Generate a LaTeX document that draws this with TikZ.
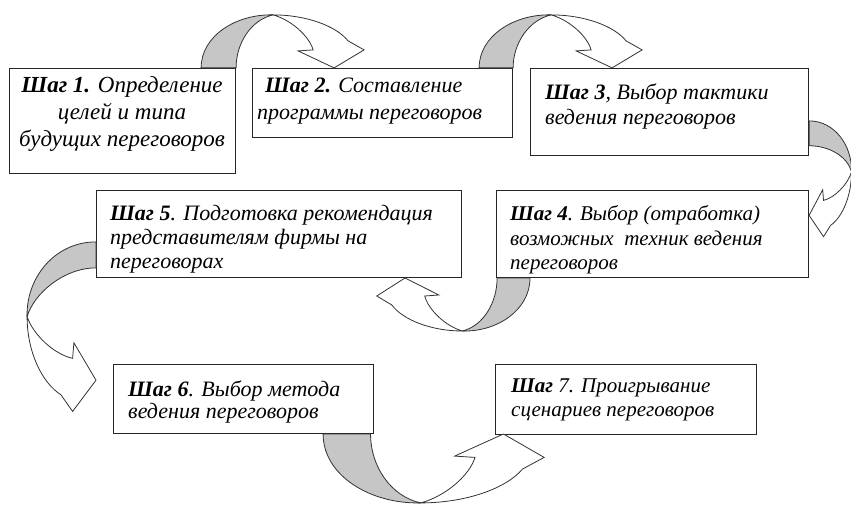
\documentclass[tikz,border=0pt]{standalone}
\usepackage{fontspec}
\setmainfont{Liberation Serif}
\usetikzlibrary{calc}
\tikzset{
  box/.style={draw=black!85, line width=1.1pt, fill=white, rectangle, inner sep=0pt, anchor=south west},
  txt/.style={inner sep=0pt, align=left, font=\itshape},
  arrback/.style={draw=black!80, line width=0.8pt, fill=gray!45, line join=round},
  arrfront/.style={draw=black!80, line width=0.8pt, fill=white, line join=miter},
}
\newcommand\crvarrow[2][35]{%
  \begin{scope}[#2]
    \path[arrback] (0,0) .. controls (0,32) and (35,54) .. (72,53)
       .. controls (50,48) and (#1,25) .. (#1,0) -- cycle;
    \path[arrfront] (72,53) .. controls (105,53) and (135,42) .. (147,27)
       -- (163,18) -- (133,0) -- (97,17) -- (112,18)
       .. controls (108,32) and (90,48) .. (72,53) -- cycle;
  \end{scope}}
\begin{document}
\begin{tikzpicture}[x=1pt,y=1pt]
\useasboundingbox (0,0) rectangle (851,504);
% boxes
\node[box, minimum width=226pt, minimum height=105pt] (b1) at (9,330) {};
\node[box, minimum width=260pt, minimum height=69pt] (b2) at (252,366) {};
\node[box, minimum width=278pt, minimum height=87pt] (b3) at (530,348) {};
\node[box, minimum width=365pt, minimum height=87pt] (b5) at (96,226) {};
\node[box, minimum width=312pt, minimum height=87pt] (b4) at (496,226) {};
\node[box, minimum width=260pt, minimum height=69pt] (b6) at (113,70) {};
\node[box, minimum width=261pt, minimum height=70pt] (b7) at (495,69) {};
% texts (anchor base = baseline of the last line)
\node[txt, align=center, anchor=base, font=\fontsize{23}{27}\selectfont\itshape] (t1) at (122,357)
  {\textbf{Шаг 1.} Определение\\целей и типа\hspace*{22pt}\\будущих переговоров};
\node[txt, anchor=base west, font=\fontsize{22}{27}\selectfont\itshape] (t2) at (257,384)
  {\hspace*{8pt}\textbf{Шаг 2.} Составление\\программы переговоров};
\node[txt, anchor=base west, font=\fontsize{22}{25}\selectfont\itshape] (t3) at (545,379)
  {\textbf{Шаг 3}, Выбор тактики\\ведения переговоров};
\node[txt, anchor=base west, font=\fontsize{22}{24}\selectfont\itshape] (t5) at (110,236)
  {\textbf{Шаг 5}. Подготовка рекомендация\\представителям фирмы на\\переговорах};
\node[txt, anchor=base west, font=\fontsize{21}{24}\selectfont\itshape] (t4) at (510,235)
  {\textbf{Шаг 4}. Выбор (отработка)\\возможных\ \ техник ведения\\переговоров};
\node[txt, anchor=base west, font=\fontsize{22}{22}\selectfont\itshape] (t6) at (128,86)
  {\textbf{Шаг 6}. Выбор метода\\ведения переговоров};
\node[txt, anchor=base west, font=\fontsize{21}{24}\selectfont\itshape] (t7) at (511,88)
  {\textbf{Шаг} 7. Проигрывание\\сценариев переговоров};
% curved block arrows
\crvarrow{shift={($(b1.north east)+(-35,0)$)}}
\crvarrow[34]{shift={($(b2.north east)+(-34,0)$)}}
\crvarrow{shift={($(b3.north east)+(0,-53)$)}, rotate=-90, xscale=0.71, yscale=0.8}
\crvarrow{shift={($(b4.south west)+(34,0)$)}, rotate=180, xscale=0.94}
\crvarrow[25]{shift={($(b5.north west)+(0,-52)$)}, xscale=-1, rotate=-90, xscale=1.04, yscale=1.3}
\crvarrow{shift={($(b6.south east)+(-51,0)$)}, xscale=1.356, yscale=-1.3}
\end{tikzpicture}
\end{document}
